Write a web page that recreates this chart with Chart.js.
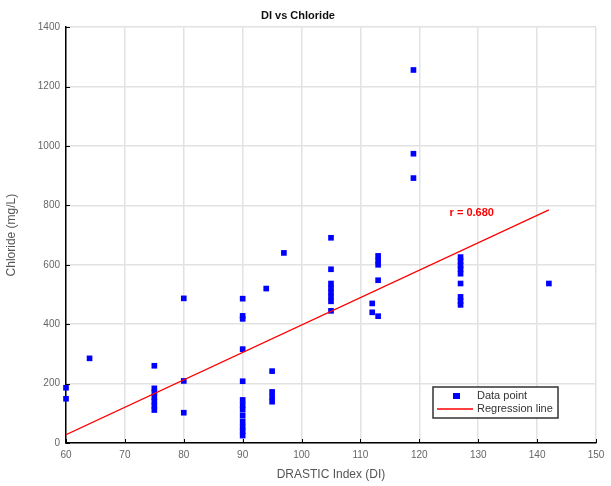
<!DOCTYPE html>
<html>
<head>
<meta charset="utf-8">
<script src="https://cdn.jsdelivr.net/npm/chart.js@4/dist/chart.umd.min.js"></script>
<style>
  body { margin: 0; background: #fff; }
  #wrap { width: 611px; height: 486px; }
</style>
</head>
<body>
<div id="wrap"><canvas id="diChart" width="611" height="486"></canvas></div>
<script>
// DRASTIC index vs chloride samples
const diValues = [
  60, 60, 64,
  75, 75, 75, 75, 75, 75, 75,
  80, 80, 80,
  90, 90, 90, 90, 90, 90, 90, 90, 90, 90, 90, 90, 90,
  94, 95, 95, 95, 95, 97,
  105, 105, 105, 105, 105, 105, 105, 105,
  112, 112, 113, 113, 113, 113, 113,
  119, 119, 119,
  127, 127, 127, 127, 127, 127, 127, 127, 127,
  142
];
const chlorideValues = [
  186, 149, 285,
  260, 184, 170, 155, 140, 125, 111,
  487, 209, 102,
  486, 428, 418, 316, 208, 145, 128, 112, 92, 72, 55, 40, 25,
  520, 242, 172, 155, 139, 640,
  691, 585, 537, 522, 507, 492, 477, 445,
  470, 440, 630, 614, 600, 548, 427,
  1256, 974, 892,
  626, 612, 598, 585, 570, 537, 492, 478, 465,
  537
];
// fitted line end points
const fitX = [60, 142];
const fitY = [28, 785];
const rLabel = 'r = 0.680';

const xTicks = [60, 70, 80, 90, 100, 110, 120, 130, 140, 150];
const yTicks = [0, 200, 400, 600, 800, 1000, 1200, 1400];

const scatterPoints = diValues.map((x, i) => ({ x: x, y: chlorideValues[i] }));
const linePoints = fitX.map((x, i) => ({ x: x, y: fitY[i] }));

const extras = {
  id: 'extras',
  afterDatasetsDraw(chart) {
    const ctx = chart.ctx;
    const xs = chart.scales.x;
    const ys = chart.scales.y;
    const area = chart.chartArea;
    ctx.save();

    // inward tick marks
    ctx.strokeStyle = '#000';
    ctx.lineWidth = 1;
    xTicks.forEach(v => {
      const px = Math.round(xs.getPixelForValue(v)) + 0.5;
      ctx.beginPath();
      ctx.moveTo(px, area.bottom);
      ctx.lineTo(px, area.bottom - 4);
      ctx.stroke();
    });
    yTicks.forEach(v => {
      const py = Math.round(ys.getPixelForValue(v)) + 0.5;
      ctx.beginPath();
      ctx.moveTo(area.left, py);
      ctx.lineTo(area.left + 4, py);
      ctx.stroke();
    });

    // correlation label
    ctx.fillStyle = '#ff0000';
    ctx.font = 'bold 11px "Liberation Sans", Arial, sans-serif';
    ctx.textAlign = 'center';
    ctx.textBaseline = 'middle';
    ctx.fillText(rLabel, xs.getPixelForValue(128.9), ys.getPixelForValue(773));

    // legend box
    const bx = area.right - 163, by = area.bottom - 56, bw = 125, bh = 31;
    ctx.fillStyle = '#fff';
    ctx.fillRect(bx, by, bw, bh);
    ctx.strokeStyle = '#333';
    ctx.lineWidth = 1.5;
    ctx.strokeRect(bx, by, bw, bh);
    ctx.fillStyle = '#0000ff';
    ctx.fillRect(bx + 20, by + 6, 7, 6);
    ctx.strokeStyle = '#ff0000';
    ctx.lineWidth = 1.5;
    ctx.beginPath();
    ctx.moveTo(bx + 4, by + 22);
    ctx.lineTo(bx + 40, by + 22);
    ctx.stroke();
    ctx.fillStyle = '#333';
    ctx.font = '11px "Liberation Sans", Arial, sans-serif';
    ctx.textAlign = 'left';
    ctx.fillText('Data point', bx + 44, by + 9);
    ctx.fillText('Regression line', bx + 44, by + 22);
    ctx.restore();
  }
};

const ctx = document.getElementById('diChart').getContext('2d');
const chart = new Chart(ctx, {
  type: 'scatter',
  data: {
    datasets: [
      {
        label: 'Data point',
        data: scatterPoints,
        backgroundColor: '#0000ff',
        borderColor: '#0000ff',
        pointStyle: 'rect',
        pointRadius: 4,
        borderWidth: 0,
        clip: false,
        order: 1,
      },
      {
        label: 'Regression line',
        type: 'line',
        data: linePoints,
        borderColor: '#ff0000',
        borderWidth: 1.2,
        pointRadius: 0,
        fill: false,
        order: 0,
      },
    ],
  },
  options: {
    responsive: false,
    animation: false,
    layout: { padding: { left: 0, right: 15, top: 0, bottom: 0 } },
    plugins: {
      legend: { display: false },
      tooltip: { enabled: false },
      title: {
        display: true,
        text: 'DI vs Chloride',
        color: '#111',
        font: { family: '"Liberation Sans", Arial, sans-serif', size: 11, weight: 'bold' },
        padding: { top: 9, bottom: 5 },
      },
    },
    scales: {
      x: {
        type: 'linear',
        min: 60,
        max: 150,
        afterBuildTicks: s => { s.ticks = xTicks.map(v => ({ value: v })); },
        afterFit: s => { s.height = 43; },
        ticks: {
          color: '#666',
          font: { family: '"Liberation Sans", Arial, sans-serif', size: 10 },
          padding: 6,
          callback: v => String(v),
        },
        grid: { color: '#e2e2e2', lineWidth: 1.5, drawTicks: false },
        border: { color: '#000', width: 1.5 },
        title: {
          display: true,
          text: 'DRASTIC Index (DI)',
          color: '#555',
          font: { family: '"Liberation Sans", Arial, sans-serif', size: 12 },
          padding: { top: 2 },
        },
      },
      y: {
        type: 'linear',
        min: 0,
        max: 1400,
        afterBuildTicks: s => { s.ticks = yTicks.map(v => ({ value: v })); },
        afterFit: s => { s.width = 66; },
        ticks: {
          color: '#666',
          font: { family: '"Liberation Sans", Arial, sans-serif', size: 10 },
          padding: 6,
          callback: v => String(v),
        },
        grid: { color: '#e2e2e2', lineWidth: 1.5, drawTicks: false },
        border: { color: '#000', width: 1.5 },
        title: {
          display: true,
          text: 'Chloride (mg/L)',
          color: '#555',
          font: { family: '"Liberation Sans", Arial, sans-serif', size: 12 },
          padding: { bottom: 0 },
        },
      },
    },
  },
  plugins: [extras],
});
</script>
</body>
</html>
